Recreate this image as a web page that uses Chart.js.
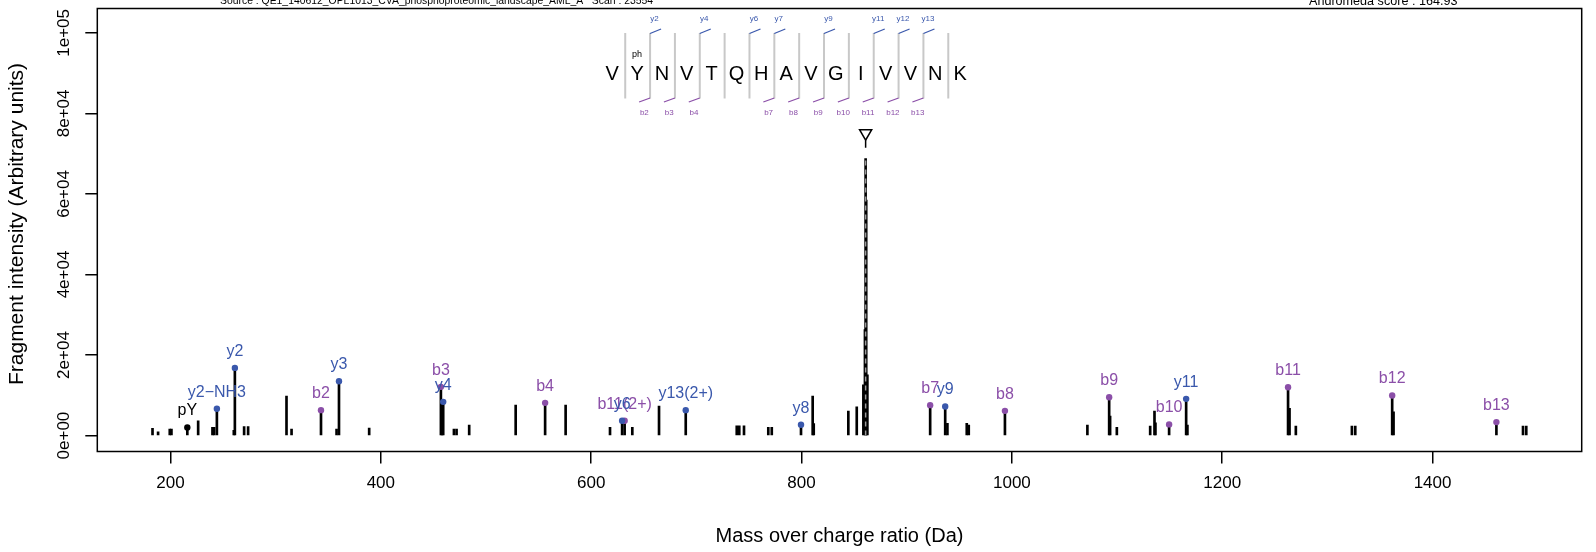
<!DOCTYPE html>
<html>
<head>
<meta charset="utf-8">
<script src="https://cdn.jsdelivr.net/npm/chart.js@4.4.1/dist/chart.umd.min.js"></script>
<style>
  html, body { margin: 0; padding: 0; background: #fff; }
  #wrap { width: 1596px; height: 552px; }
</style>
</head>
<body>
<div id="wrap"><canvas id="spectrum" width="1596" height="552"></canvas></div>
<script>
/* Data */
// unannotated fragment peaks
const otherMz = [182.9, 188.2, 199.3, 200.9, 226.3, 239.9, 241.5, 260.2, 270.0, 273.8,
  310.3, 315.1, 357.9, 388.9, 458.2, 469.5, 472.0, 484.0, 528.2, 575.7,
  617.9, 639.1, 664.5, 738.4, 740.8, 745.3, 768.4, 771.7, 810.6, 811.6,
  844.5, 852.5, 858.8, 860.3, 861.5, 862.6, 938.7, 957.1, 959.0, 1071.8,
  1093.4, 1099.8, 1131.5, 1135.6, 1136.5, 1166.9, 1264.0, 1270.0, 1323.3, 1326.5,
  1362.9, 1486.0, 1489.1];
const otherInt = [1780, 940, 1600, 1600, 3670, 2030, 2030, 1300, 2200, 2200,
  9780, 1610, 1600, 1850, 2500, 1600, 1600, 2600, 7550, 7550,
  2030, 2030, 7300, 2430, 2430, 2430, 2030, 2030, 9780, 3000,
  6070, 7130, 12600, 26300, 58500, 15100, 3020, 3020, 2600, 2600,
  4830, 2030, 2350, 6070, 3170, 2600, 6730, 2350, 2350, 2350,
  5900, 2350, 2350];

// y ions
const yIonLabels = ['y2\u2212NH3', 'y2', 'y3', 'y4', 'y6', 'y13(2+)', 'y8', 'y9', 'y11'];
const yIonMz = [244.1, 261.2, 360.2, 459.3, 629.4, 689.9, 799.5, 936.6, 1165.7];
const yIonInt = [6640, 16800, 13500, 8370, 3670, 6310, 2680, 7230, 9110];

// b ions
const bIonLabels = ['b2', 'b3', 'b4', 'b11(2+)', 'b7', 'b8', 'b9', 'b10', 'b11', 'b12', 'b13'];
const bIonMz = [343.1, 457.1, 556.2, 631.8, 922.3, 993.4, 1092.5, 1149.5, 1262.6, 1361.6, 1460.7];
const bIonInt = [6310, 12090, 8120, 3670, 7550, 6140, 9530, 2770, 12010, 9950, 3340];

// immonium ion
const immLabels = ['pY'];
const immMz = [216.0];
const immInt = [2030];

// precursor
const precursorMz = 860.94;
const precursorInt = 68800;

// peptide
const sequence = ['V', 'Y', 'N', 'V', 'T', 'Q', 'H', 'A', 'V', 'G', 'I', 'V', 'V', 'N', 'K'];
const yMarks = [2, 4, 6, 7, 9, 11, 12, 13];
const bMarks = [2, 3, 4, 7, 8, 9, 10, 11, 12, 13];

// axes
const xTicks = [200, 400, 600, 800, 1000, 1200, 1400];
const xTickLabels = ['200', '400', '600', '800', '1000', '1200', '1400'];
const yTicks = [0, 20000, 40000, 60000, 80000, 100000];
const yTickLabels = ['0e+00', '2e+04', '4e+04', '6e+04', '8e+04', '1e+05'];

const sourceText = 'Source : QE1_140612_OPL1013_CVA_phosphoproteomic_landscape_AML_A   Scan : 23554';
const scoreText = 'Andromeda score : 164.93';
const yTitle = 'Fragment intensity (Arbitrary units)';

/* Styles */
const FONT = "'Liberation Sans', Arial, Helvetica, sans-serif";
const BLUE = '#3a58ac';
const PURPLE = '#8b4fa8';

function toPoints(xs, ys) {
    return xs.map((x, i) => ({ x: x, y: ys[i] }));
}

const allPeaks = toPoints(otherMz, otherInt)
    .concat(toPoints(yIonMz, yIonInt))
    .concat(toPoints(bIonMz, bIonInt))
    .concat(toPoints(immMz, immInt))
    .concat([{ x: precursorMz, y: precursorInt }]);

/* Annotation plugin */
const annotations = {
    id: 'annotations',
    afterDatasetsDraw(chart) {
        const { ctx, chartArea: a, scales: { x, y } } = chart;
        ctx.save();

        // frame
        ctx.strokeStyle = '#000';
        ctx.lineWidth = 1.5;
        ctx.strokeRect(a.left, a.top, a.right - a.left, a.bottom - a.top);

        // ion labels
        ctx.font = '16px ' + FONT;
        ctx.textAlign = 'center';
        ctx.textBaseline = 'alphabetic';
        function labels(names, mz, inten, color) {
            ctx.fillStyle = color;
            names.forEach((n, i) => {
                ctx.fillText(n, x.getPixelForValue(mz[i]), y.getPixelForValue(inten[i]) - 12);
            });
        }
        labels(immLabels, immMz, immInt, '#000');
        labels(bIonLabels, bIonMz, bIonInt, PURPLE);
        labels(yIonLabels, yIonMz, yIonInt, BLUE);

        // peptide sequence
        const x0 = x.getPixelForValue(620.0);
        const step = 24.85;
        const top = a.top;
        ctx.lineWidth = 2;
        ctx.strokeStyle = '#c8c8c8';
        for (let i = 0; i < sequence.length - 1; i++) {
            const sx = x0 + i * step + 13;
            ctx.beginPath();
            ctx.moveTo(sx, top + 24.5);
            ctx.lineTo(sx, top + 90);
            ctx.stroke();
        }
        ctx.font = '20px ' + FONT;
        ctx.fillStyle = '#000';
        sequence.forEach((aa, i) => ctx.fillText(aa, x0 + i * step, top + 71));

        ctx.font = '9px ' + FONT;
        ctx.textBaseline = 'middle';
        ctx.fillText('ph', x0 + step, top + 46);

        ctx.lineWidth = 1.3;
        ctx.font = '8px ' + FONT;
        // y ion marks (top)
        ctx.strokeStyle = BLUE;
        ctx.fillStyle = BLUE;
        yMarks.forEach(n => {
            const sx = x0 + (n - 1) * step + 13;
            ctx.beginPath();
            ctx.moveTo(sx, top + 25);
            ctx.lineTo(sx + 11, top + 20.5);
            ctx.stroke();
            ctx.fillText('y' + n, sx + 4.5, top + 10.5);
        });
        // b ion marks (bottom)
        ctx.strokeStyle = PURPLE;
        ctx.fillStyle = PURPLE;
        bMarks.forEach(n => {
            const sx = x0 + (n - 1) * step + 13;
            ctx.beginPath();
            ctx.moveTo(sx, top + 89.5);
            ctx.lineTo(sx - 11, top + 93.5);
            ctx.stroke();
            ctx.fillText('b' + n, sx - 5.7, top + 104);
        });

        // header texts (partly cut by the canvas top)
        ctx.fillStyle = '#000';
        ctx.textAlign = 'left';
        ctx.textBaseline = 'alphabetic';
        ctx.font = '10.4px ' + FONT;
        ctx.fillText(sourceText, 220, 3.5);
        ctx.font = '12.6px ' + FONT;
        ctx.fillText(scoreText, 1309, 5);

        // y axis title
        ctx.save();
        ctx.translate(17, (a.top + a.bottom) / 2 - 6);
        ctx.rotate(-Math.PI / 2);
        ctx.textAlign = 'center';
        ctx.textBaseline = 'middle';
        ctx.font = '21px ' + FONT;
        ctx.fillText(yTitle, 0, 0);
        ctx.restore();

        ctx.restore();
    }
};

const gridOpts = {
    drawOnChartArea: false,
    drawTicks: true,
    tickLength: 12,
    color: '#000',
    lineWidth: 1.5,
    offset: false
};

function noScalePadding(s) {
    s.paddingTop = 0;
    s.paddingBottom = 0;
    s.paddingLeft = 0;
    s.paddingRight = 0;
}

new Chart(document.getElementById('spectrum'), {
    type: 'bar',
    data: {
        datasets: [
            {
                type: 'line',
                data: toPoints(yIonMz, yIonInt),
                showLine: false,
                pointRadius: 3.2,
                pointBackgroundColor: BLUE,
                pointBorderWidth: 0,
                order: 1
            },
            {
                type: 'line',
                data: toPoints(bIonMz, bIonInt),
                showLine: false,
                pointRadius: 3.2,
                pointBackgroundColor: PURPLE,
                pointBorderWidth: 0,
                order: 1
            },
            {
                type: 'line',
                data: toPoints(immMz, immInt),
                showLine: false,
                pointRadius: 3.2,
                pointBackgroundColor: '#000',
                pointBorderWidth: 0,
                order: 1
            },
            {
                // precursor: dashed overlay
                type: 'line',
                data: [{ x: precursorMz, y: 0 }, { x: precursorMz, y: precursorInt }],
                borderColor: '#9a9a9a',
                borderWidth: 1.5,
                borderDash: [5, 4],
                pointRadius: 0,
                order: 2
            },
            {
                // precursor marker stem
                type: 'line',
                data: [{ x: precursorMz, y: precursorInt + 2650 }, { x: precursorMz, y: precursorInt + 4550 }],
                borderColor: '#000',
                borderWidth: 1.5,
                pointRadius: 0,
                order: 2
            },
            {
                // precursor marker (open, pointing down)
                type: 'line',
                data: [{ x: precursorMz, y: precursorInt + 6290 }],
                showLine: false,
                pointStyle: 'triangle',
                rotation: 180,
                pointRadius: 7,
                pointBackgroundColor: 'rgba(0,0,0,0)',
                pointBorderColor: '#000',
                pointBorderWidth: 1.5,
                order: 1
            },
            {
                type: 'bar',
                data: allPeaks,
                backgroundColor: '#000',
                barThickness: 2,
                grouped: false,
                order: 3
            }
        ]
    },
    options: {
        responsive: false,
        animation: false,
        devicePixelRatio: 1,
        layout: { padding: { top: 7.3, right: 14.3, left: 0, bottom: 0 } },
        plugins: {
            legend: { display: false },
            tooltip: { enabled: false }
        },
        scales: {
            x: {
                type: 'linear',
                min: 130.4,
                max: 1541.8,
                offset: false,
                afterBuildTicks: s => { s.ticks = xTicks.map(v => ({ value: v })); },
                afterFit: s => { s.height = 100.5; noScalePadding(s); },
                grid: gridOpts,
                border: { display: false },
                ticks: {
                    callback: (v, i) => xTickLabels[i],
                    font: { size: 17, family: FONT },
                    color: '#000',
                    padding: 10,
                    maxRotation: 0,
                    autoSkip: false
                },
                title: {
                    display: true,
                    text: 'Mass over charge ratio (Da)',
                    font: { size: 20, family: FONT },
                    color: '#000',
                    padding: { top: 0, bottom: 4 }
                }
            },
            y: {
                type: 'linear',
                min: -3960,
                max: 106050,
                afterBuildTicks: s => { s.ticks = yTicks.map(v => ({ value: v })); },
                afterFit: s => { s.width = 97.3; noScalePadding(s); },
                grid: gridOpts,
                border: { display: false },
                ticks: {
                    callback: (v, i) => yTickLabels[i],
                    font: { size: 17, family: FONT },
                    color: '#000',
                    minRotation: 90,
                    maxRotation: 90,
                    crossAlign: 'center',
                    padding: -3,
                    autoSkip: false
                }
            }
        }
    },
    plugins: [annotations]
});
</script>
</body>
</html>
